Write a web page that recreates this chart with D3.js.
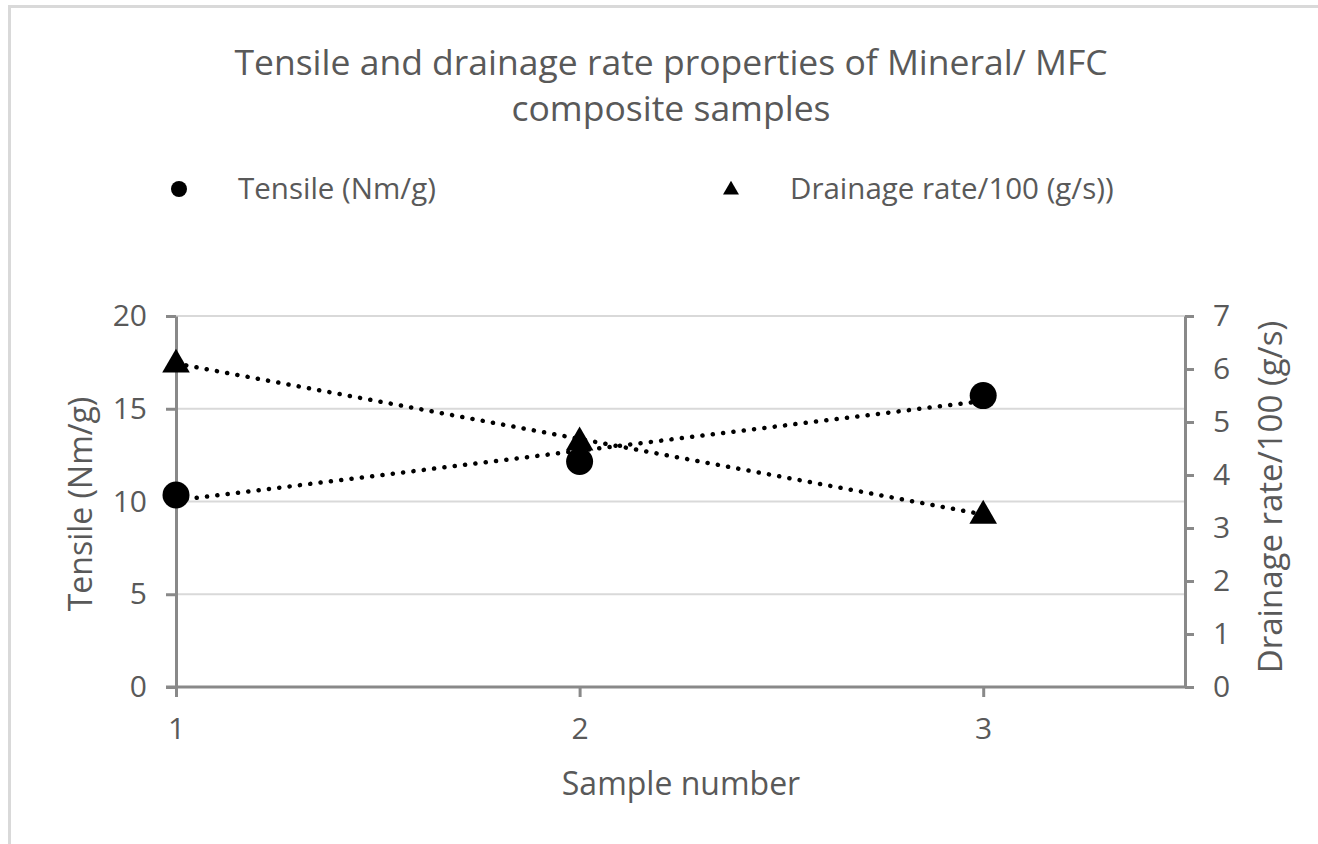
<!DOCTYPE html>
<html><head><meta charset="utf-8">
<title>Tensile and drainage rate</title>
<script src="https://cdn.jsdelivr.net/npm/d3@7"></script>
<style>
body { margin: 0; background: #fff; }
text { font-family: "Open Sans", "Noto Sans", sans-serif; fill: #595959; }
</style>
</head>
<body>
<script>

// data
var samples = [1, 2, 3];
var tensile = [10.35, 12.16, 15.71];     // Nm/g
var drainage = [6.12, 4.65, 3.27];       // g/s /100
var leftTicks = [0, 5, 10, 15, 20];
var rightTicks = [0, 1, 2, 3, 4, 5, 6, 7];
var xTicks = [1, 2, 3];

var width = 1318;
var height = 844;
var axisColor = "#898989";
var gridColor = "#d9d9d9";

var svg = d3.select("body").append("svg").attr("width", width).attr("height", height);

// chart area border (only top and left visible in the crop)
svg.append("line").attr("x1", 8).attr("x2", width).attr("y1", 6.5).attr("y2", 6.5)
	.attr("stroke", gridColor).attr("stroke-width", 3);
svg.append("line").attr("x1", 9.5).attr("x2", 9.5).attr("y1", 5).attr("y2", height)
	.attr("stroke", gridColor).attr("stroke-width", 3);

var x = d3.scaleLinear().domain([1, 3.5]).range([176, 1185]);
var yL = d3.scaleLinear().domain([0, 20]).range([687, 316]);
var yR = d3.scaleLinear().domain([0, 7]).range([687, 316]);

// gridlines
svg.append("g").selectAll("line").data(leftTicks.slice(1)).enter().append("line")
	.attr("x1", x(1)).attr("x2", x(3.5))
	.attr("y1", function(d) {return yL(d);})
	.attr("y2", function(d) {return yL(d);})
	.attr("stroke", gridColor).attr("stroke-width", 2);

var fmt = d3.format("d");

// left axis
var gl = svg.append("g").attr("transform", "translate(" + x(1) + ",0)")
	.call(d3.axisLeft(yL).tickValues(leftTicks).tickSize(10).tickPadding(19).tickSizeOuter(0).tickFormat(fmt));
// right axis
var gr = svg.append("g").attr("transform", "translate(" + x(3.5) + ",0)")
	.call(d3.axisRight(yR).tickValues(rightTicks).tickSize(9).tickPadding(19).tickSizeOuter(0).tickFormat(fmt));
// bottom axis
var gb = svg.append("g").attr("transform", "translate(0," + yL(0) + ")")
	.call(d3.axisBottom(x).tickValues(xTicks).tickSize(10).tickPadding(21).tickSizeOuter(0).tickFormat(fmt));

[gl, gr, gb].forEach(function(g) {
	g.select(".domain").attr("stroke", axisColor).attr("stroke-width", 3);
	g.selectAll(".tick line").attr("stroke", axisColor).attr("stroke-width", 3);
	g.selectAll(".tick text").style("font-family", "'Open Sans', sans-serif")
		.style("font-size", "30px").attr("fill", "#595959");
});
gb.select(".domain").attr("d", "M" + (x(1) - 10) + ",0H" + x(3.5));

// linear trendlines
function trend(xs, ys) {
	var mx = d3.mean(xs), my = d3.mean(ys);
	var num = d3.sum(xs, function(v, i) {return (v - mx) * (ys[i] - my);});
	var den = d3.sum(xs, function(v) {return (v - mx) * (v - mx);});
	var b = num / den, a = my - b * mx;
	var x0 = d3.min(xs), x1 = d3.max(xs);
	return [[x0, a + b * x0], [x1, a + b * x1]];
}

function drawTrend(pts, y) {
	svg.append("path")
		.attr("d", d3.line().x(function(d) {return x(d[0]);}).y(function(d) {return y(d[1]);})(pts))
		.attr("fill", "none").attr("stroke", "#000").attr("stroke-width", 4.5)
		.attr("stroke-linecap", "round").attr("stroke-dasharray", "0.1,10.3");
}
drawTrend(trend(samples, tensile), yL);
drawTrend(trend(samples, drainage), yR);

// markers
var circ = d3.symbol().type(d3.symbolCircle).size(Math.PI * 13.5 * 13.5);
var tri = d3.symbol().type(d3.symbolTriangle).size(330);

svg.append("g").selectAll("path").data(samples).enter().append("path")
	.attr("d", circ)
	.attr("transform", function(d, i) {return "translate(" + x(d) + "," + yL(tensile[i]) + ")";})
	.attr("fill", "#000");

svg.append("g").selectAll("path").data(samples).enter().append("path")
	.attr("d", tri)
	.attr("transform", function(d, i) {return "translate(" + x(d) + "," + (yR(drainage[i]) + 2) + ")";})
	.attr("fill", "#000");

// titles
var title = svg.append("text").attr("text-anchor", "middle").style("font-size", "35.5px");
title.append("tspan").attr("x", 671).attr("y", 75).text("Tensile and drainage rate properties of Mineral/ MFC");
title.append("tspan").attr("x", 671).attr("y", 121).text("composite samples");

svg.append("text").attr("text-anchor", "middle").attr("x", 681).attr("y", 795)
	.style("font-size", "32px").text("Sample number");

svg.append("text").attr("text-anchor", "middle")
	.attr("transform", "translate(92,504) rotate(-90)")
	.style("font-size", "32px").text("Tensile (Nm/g)");

svg.append("text").attr("text-anchor", "middle")
	.attr("transform", "translate(1282,497) rotate(-90)")
	.style("font-size", "33px").text("Drainage rate/100 (g/s)");

// legend
var legend = svg.append("g");
legend.append("path").attr("d", d3.symbol().type(d3.symbolCircle).size(Math.PI * 8 * 8))
	.attr("transform", "translate(179,189)").attr("fill", "#000");
legend.append("text").attr("x", 238).attr("y", 199).style("font-size", "29.5px").text("Tensile (Nm/g)");
legend.append("path").attr("d", d3.symbol().type(d3.symbolTriangle).size(110))
	.attr("transform", "translate(731,190)").attr("fill", "#000");
legend.append("text").attr("x", 790).attr("y", 199).style("font-size", "29.5px").text("Drainage rate/100 (g/s))");

</script>
</body></html>
